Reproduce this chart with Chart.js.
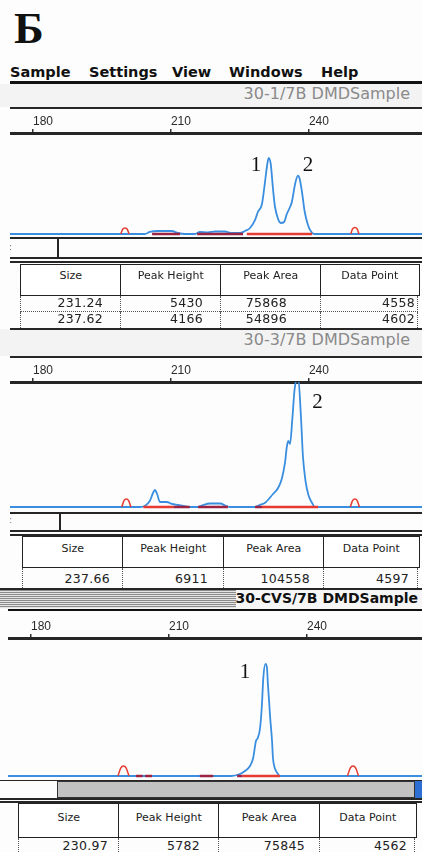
<!DOCTYPE html>
<html lang="ru">
<head>
<meta charset="UTF-8">
<meta name="viewport" content="width=device-width, initial-scale=1.0">
<script src="https://cdn.jsdelivr.net/npm/chart.js"></script>
<title>DMDSample</title>
<style>
    body {
        margin: 0;
        width: 422px;
        height: 852px;
        overflow: hidden;
        position: relative;
        background: #fdfdfd;
        font-family: "DejaVu Sans", sans-serif;
        color: #222;
    }
    .abs { position: absolute; box-sizing: border-box; }
    .rule { position: absolute; background: #262626; }
    .band { position: absolute; left: 0; width: 422px; background: #f3f3f3; }
    .title { position: absolute; font-size: 16px; line-height: 16px; color: #8a8a8a; white-space: nowrap; }
    .menu { position: absolute; top: 65px; font-size: 14.5px; line-height: 14.5px; font-weight: bold; color: #111; }
    .hcell { position: absolute; box-sizing: border-box; border: 1.5px solid #222; background: #fff;
             font-size: 11px; line-height: 11px; text-align: center; }
    .dcell { position: absolute; box-sizing: border-box; border-left: 1px dotted #555;
             font-size: 12.5px; line-height: 12px; text-align: right; letter-spacing: 0.3px; }
    canvas { position: absolute; }
</style>
</head>
<body>

<div class="abs" style="left:14px; top:6px; font: bold 45px/45px 'Liberation Serif', serif; color:#111;">Б</div>

<div class="menu" style="left:10px;">Sample</div>
<div class="menu" style="left:89px;">Settings</div>
<div class="menu" style="left:172px;">View</div>
<div class="menu" style="left:229px;">Windows</div>
<div class="menu" style="left:321px;">Help</div>
<div class="rule" style="left:10px; width:412px; top:81px; height:2.5px; background:#111;"></div>

<!-- panel 1 -->
<div class="band" style="top:84px; height:23px;"></div>
<div class="title" style="right:12px; top:86px;">30-1/7B DMDSample</div>
<div class="rule" style="left:10px; width:412px; top:107px; height:1.5px;"></div>
<canvas id="panel1" width="412" height="130" style="left:10px; top:108px;"></canvas>
<div class="rule" style="left:10px; width:412px; top:237px; height:1.5px;"></div>
<div class="rule" style="left:57px; width:1.5px; top:238px; height:20px;"></div>
<div class="abs" style="left:9px; top:242px; font-size:9px; color:#777;">:</div>
<div class="rule" style="left:10px; width:412px; top:257px; height:2px;"></div>
<div class="rule" style="left:10px; width:412px; top:260.5px; height:2px;"></div>

<!-- panel 2 -->
<div class="band" style="top:329px; height:27px;"></div>
<div class="title" style="right:12px; top:332px;">30-3/7B DMDSample</div>
<div class="rule" style="left:10px; width:412px; top:356px; height:1.5px;"></div>
<canvas id="panel2" width="412" height="153" style="left:10px; top:357px;"></canvas>
<div class="rule" style="left:10px; width:412px; top:512px; height:1.5px;"></div>
<div class="rule" style="left:59px; width:1.5px; top:513px; height:18px;"></div>
<div class="abs" style="left:9px; top:515px; font-size:9px; color:#777;">:</div>
<div class="rule" style="left:10px; width:412px; top:530px; height:2px;"></div>
<div class="rule" style="left:10px; width:412px; top:533.5px; height:2px;"></div>

<!-- panel 3 -->
<div class="band" style="top:589px; height:20px; background:#f6f6f6;"></div>
<div class="abs" style="left:0; top:590px; width:236px; height:18px;
     background: repeating-linear-gradient(to bottom, #8c8c8c 0 1px, #e4e4e4 1px 2px);"></div>
<div class="title" style="right:4px; top:591px; font-size:14px; line-height:14px; font-weight:bold; color:#111;">30-CVS/7B DMDSample</div>
<div class="rule" style="left:8px; width:414px; top:609px; height:2px; background:#111;"></div>
<canvas id="panel3" width="414" height="168" style="left:8px; top:611px;"></canvas>
<div class="rule" style="left:0; width:422px; top:779.5px; height:1.5px;"></div>
<div class="abs" style="left:57px; top:781px; width:358px; height:17px; border:1px solid #333;
     background:#c2c2c2;"></div>
<div class="abs" style="left:415px; top:781px; width:7px; height:17px; background:#2d6fd3;"></div>
<div class="rule" style="left:0; width:422px; top:798px; height:2px;"></div>
<div class="rule" style="left:0; width:422px; top:801px; height:2px;"></div>

<script>
    // size standard (bp) ticks of the top axis
    const tickValues = [180, 210, 240];
    const tableHead = ['Size', 'Peak Height', 'Peak Area', 'Data Point'];

    // peak tables
    const t1Size = [231.24, 237.62];
    const t1Height = [5430, 4166];
    const t1Area = [75868, 54896];
    const t1Point = [4558, 4602];

    const t2Size = [237.66];
    const t2Height = [6911];
    const t2Area = [104558];
    const t2Point = [4597];

    const t3Size = [230.97];
    const t3Height = [5782];
    const t3Area = [75845];
    const t3Point = [4562];

    // 30-1/7B : blue trace, size (bp) vs signal (RFU)
    const p1Size = [175.0, 198.5, 204.3, 205.4, 207.2, 210.2, 211.5, 213.0, 215.2, 216.3, 218.0, 219.6, 221.7,
        223.3, 225.0, 226.1, 227.2, 228.3, 228.9, 229.8, 230.4, 230.9, t1Size[0], 231.7, 232.2, 232.6, 233.3,
        233.9, 234.6, 235.2, 235.9, 236.3, 237.0, t1Size[1], 238.0, 238.5, 239.1, 239.8, 240.4, 241.1, 264.6];
    const p1Rfu = [0, 0, 0, 143, 214, 214, 71, 0, 0, 143, 107, 179, 179,
        71, 71, 214, 428, 1000, 1571, 2142, 3570, 4855, t1Height[0], 4998, 3213, 1999, 1071,
        785, 857, 1428, 1928, 2285, 3570, t1Height[1], 3927, 2999, 1571, 643, 214, 0, 0];
    // red size-standard peaks and bins
    const p1StdSize = [[199.1, 199.5, 200.0, 200.5, 200.9], [249.1, 249.5, 250.0, 250.5, 250.9]];
    const p1StdRfu = [[0, 340, 430, 340, 0], [0, 360, 460, 360, 0]];
    const p1DarkSpans = [[205.9, 212.0], [215.7, 225.7]];
    const p1RedSpans = [[226.5, 240.7]];

    // 30-3/7B
    const p2Size = [175.0, 203.3, 204.3, 205.4, 206.1, 206.5, 207.0, 207.6, 208.3, 209.1, 210.2, 211.5, 212.8,
        214.1, 215.9, 217.0, 218.5, 220.7, 222.0, 222.8, 228.3, 229.3, 230.4, 232.2, 233.3, 234.1, 234.8,
        235.2, 235.5, 235.9, 236.4, 236.9, t2Size[0], 238.3, 238.7, 239.3, 239.9, 240.7, 241.3, 264.6];
    const p2Rfu = [0, 0, 53, 319, 745, 904, 692, 266, 266, 266, 160, 106, 53,
        0, 0, 106, 186, 186, 53, 0, 0, 106, 213, 692, 1011, 1490, 2341,
        3192, 3511, 3352, 4682, 6278, t2Height[0], 4682, 2713, 1330, 638, 213, 0, 0];
    const p2StdSize = [[199.3, 199.8, 200.3, 200.8, 201.3], [249.0, 249.5, 250.0, 250.5, 251.0]];
    const p2StdRfu = [[0, 340, 426, 340, 0], [0, 340, 426, 340, 0]];
    const p2DarkSpans = [[210.5, 214.1], [215.9, 222.4], [228.3, 229.8]];
    const p2RedSpans = [[204.0, 210.5], [229.8, 242.0]];

    // 30-CVS/7B
    const p3Size = [175.0, 223.5, 225.4, 226.5, 227.6, 228.3, 228.9, 229.3, 229.8, 230.2, 230.5, t3Size[0],
        231.3, 231.5, 232.0, 232.4, 232.6, 233.0, 233.7, 234.1, 265.0];
    const p3Rfu = [0, 0, 103, 258, 516, 929, 1806, 1961, 2477, 3664, 5057, t3Height[0],
        5573, 4747, 2993, 1806, 929, 413, 103, 0, 0];
    const p3StdSize = [[198.9, 199.5, 200.1, 200.7, 201.3], [248.8, 249.4, 250.0, 250.6, 251.2]];
    const p3StdRfu = [[0, 410, 516, 410, 0], [0, 410, 516, 410, 0]];
    const p3DarkSpans = [[202.8, 204.3], [204.8, 206.3], [216.7, 219.6], [224.8, 226.0]];
    const p3RedSpans = [[226.0, 234.1]];

    const BLUE = '#3a8ee0';
    const RED = '#e63b30';
    const DARK = '#9c2442';

    function zip(xs, ys) {
        return xs.map((x, i) => ({ x: x, y: ys[i] }));
    }

    // numbers "1" / "2" over the peaks
    const peakTags = {
        id: 'peakTags',
        afterDatasetsDraw(chart, args, opts) {
            const ctx = chart.ctx;
            ctx.save();
            ctx.font = '21px "Liberation Serif", serif';
            ctx.fillStyle = '#111';
            ctx.textAlign = 'center';
            ctx.textBaseline = 'top';
            (opts.items || []).forEach(t => {
                ctx.fillText(t.text, chart.scales.x.getPixelForValue(t.x), chart.scales.y.getPixelForValue(t.y) - 3);
            });
            ctx.restore();
        }
    };

    function makePanel(id, p) {
        // blue trace goes under the red bins (higher order = drawn first)
        const datasets = [{
            data: zip(p.size, p.rfu),
            borderColor: BLUE,
            borderWidth: 1.8,
            cubicInterpolationMode: 'monotone',
            order: 3
        }];
        p.dark.forEach(s => datasets.push({ data: [{ x: s[0], y: 0 }, { x: s[1], y: 0 }], borderColor: DARK, borderWidth: 2.5, order: 2 }));
        p.red.forEach(s => datasets.push({ data: [{ x: s[0], y: 0 }, { x: s[1], y: 0 }], borderColor: RED, borderWidth: 2.5, order: 2 }));
        p.stdSize.forEach((s, i) => datasets.push({
            data: zip(s, p.stdRfu[i]),
            borderColor: RED,
            borderWidth: 1.5,
            cubicInterpolationMode: 'monotone',
            order: 1
        }));

        return new Chart(document.getElementById(id), {
            type: 'line',
            data: { datasets: datasets },
            options: {
                responsive: false,
                animation: false,
                devicePixelRatio: 1,
                layout: { padding: 0 },
                elements: { point: { radius: 0 }, line: { borderCapStyle: 'butt' } },
                scales: {
                    x: {
                        type: 'linear',
                        position: 'top',
                        min: 175.0,
                        max: p.xMax,
                        afterBuildTicks: scale => { scale.ticks = tickValues.map(v => ({ value: v })); },
                        afterFit: scale => { scale.height = p.axisH; },
                        ticks: {
                            align: 'start',
                            padding: 0,
                            color: '#2a2a2a',
                            font: { family: 'Liberation Sans', size: 12 },
                            callback: v => String(v)
                        },
                        grid: {
                            display: true,
                            drawOnChartArea: false,
                            drawTicks: true,
                            tickLength: 4,
                            lineWidth: 1.5,
                            color: '#333'
                        },
                        border: { display: true, color: '#262626', width: 3 }
                    },
                    y: { display: false, min: p.yMin, max: p.yMax }
                },
                plugins: {
                    legend: { display: false },
                    tooltip: { enabled: false },
                    peakTags: { items: p.tags }
                }
            },
            plugins: [peakTags]
        });
    }

    makePanel('panel1', {
        size: p1Size, rfu: p1Rfu, stdSize: p1StdSize, stdRfu: p1StdRfu,
        dark: p1DarkSpans, red: p1RedSpans,
        xMax: 264.6, yMin: -286, yMax: 7211, axisH: 25,
        tags: [{ text: '1', x: 228.5, y: 5430 }, { text: '2', x: 239.8, y: 5430 }]
    });
    makePanel('panel2', {
        size: p2Size, rfu: p2Rfu, stdSize: p2StdSize, stdRfu: p2StdRfu,
        dark: p2DarkSpans, red: p2RedSpans,
        xMax: 264.6, yMin: -160, yMax: 6650, axisH: 25,
        tags: [{ text: '2', x: 241.85, y: 5958 }]
    });
    makePanel('panel3', {
        size: p3Size, rfu: p3Rfu, stdSize: p3StdSize, stdRfu: p3StdRfu,
        dark: p3DarkSpans, red: p3RedSpans,
        xMax: 265.0, yMin: -155, yMax: 7121, axisH: 27,
        tags: [{ text: '1', x: 226.5, y: 5728 }]
    });

    // peak tables under each panel
    function box(cls, x, y, w, h, text, extra) {
        const d = document.createElement('div');
        d.className = cls;
        Object.assign(d.style, { left: x + 'px', top: y + 'px', width: w + 'px', height: h + 'px' }, extra || {});
        if (text !== undefined) d.textContent = text;
        document.body.appendChild(d);
        return d;
    }

    function drawTable(t, cols) {
        const n = cols[0].length;
        let x = t.left;
        t.widths.forEach((w, i) => {
            box('hcell', x, t.top, w + 1.5, t.headH, tableHead[i], { paddingTop: t.headPad + 'px' });
            for (let r = 0; r < n; r++) {
                const v = i === 0 ? cols[i][r].toFixed(2) : String(cols[i][r]);
                const extra = { paddingRight: t.pads[i] + 'px', paddingTop: t.rowPad + 'px' };
                if (i === t.widths.length - 1) extra.borderRight = '1px dotted #555';
                if (r < n - 1) extra.borderBottom = '1px dotted #555';
                box('dcell', x, t.top + t.headH + r * t.rowH, w, t.rowH, v, extra);
            }
            x += w;
        });
    }

    drawTable({ top: 264, left: 20, widths: [100, 100, 100, 98], headH: 32, rowH: 16,
        headPad: 5, rowPad: 1, pads: [17, 17, 33, 2] }, [t1Size, t1Height, t1Area, t1Point]);
    box('rule', 10, 328, 412, 1.5);

    drawTable({ top: 536, left: 22, widths: [100, 101, 100, 95], headH: 32, rowH: 20,
        headPad: 6, rowPad: 5, pads: [12, 15, 13, 8] }, [t2Size, t2Height, t2Area, t2Point]);
    box('rule', 0, 588, 422, 1.5);

    drawTable({ top: 803, left: 18, widths: [100, 100, 101, 96], headH: 35, rowH: 20,
        headPad: 8, rowPad: 2, pads: [10, 18, 14, 7] }, [t3Size, t3Height, t3Area, t3Point]);
</script>

</body>
</html>
